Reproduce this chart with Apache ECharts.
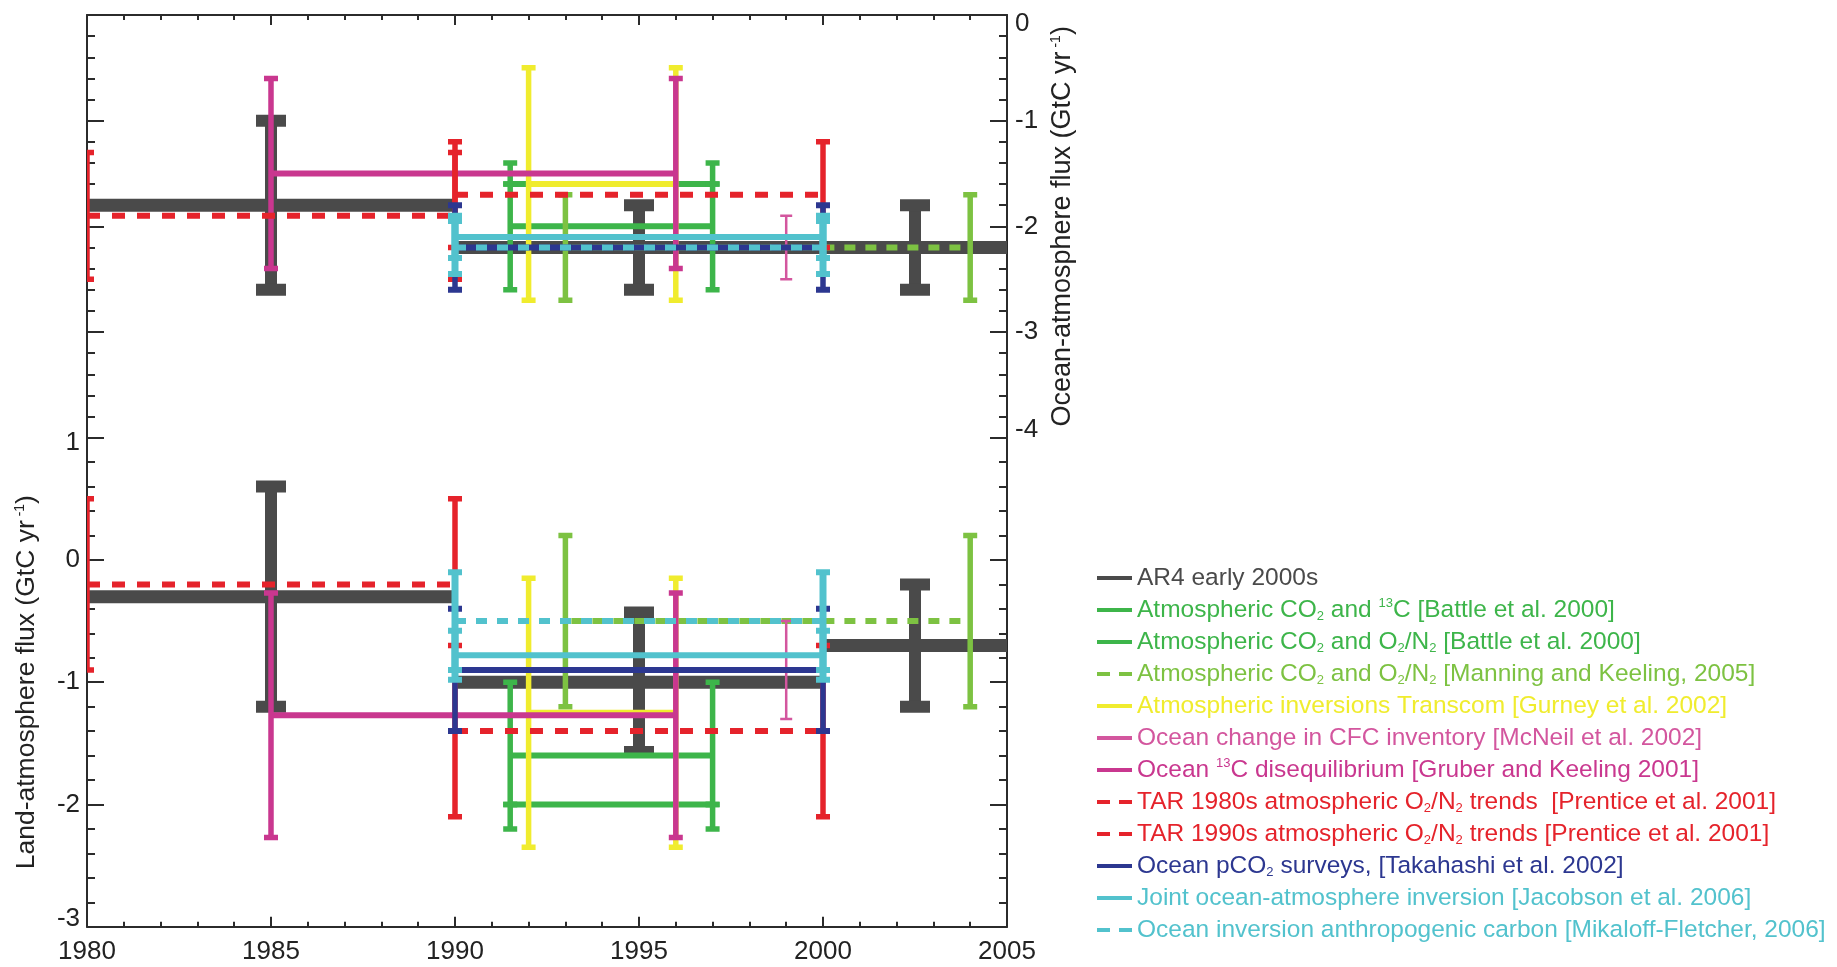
<!DOCTYPE html>
<html>
<head>
<meta charset="utf-8">
<title>Ocean-atmosphere and land-atmosphere fluxes</title>
<script src="https://cdn.jsdelivr.net/npm/echarts@6/dist/echarts.min.js"></script>
<style>
  html, body { margin: 0; padding: 0; background: #fff; }
  #chart { width: 1837px; height: 967px; }
</style>
</head>
<body>
<div id="chart"></div>
<script>
// lines: [start year, end year, flux]   bars: [year, upper, lower]   (GtC per year)
// top panel = ocean-atmosphere flux, bottom panel = land-atmosphere flux
const ar4OceanLines = [[1980, 1990, -1.8], [1990, 2000, -2.2], [2000, 2005, -2.2]];
const ar4OceanBars = [[1985, -1.0, -2.6], [1995, -1.8, -2.6], [2002.5, -1.8, -2.6]];
const ar4LandLines = [[1980, 1990, -0.3], [1990, 2000, -1.0], [2000, 2005, -0.7]];
const ar4LandBars = [[1985, 0.6, -1.2], [1995, -0.43, -1.57], [2002.5, -0.2, -1.2]];

const battle13cOceanLines = [[1991.5, 1997, -1.6]];
const battle13cOceanBars = [[1991.5, -1.6, -1.6], [1997, -1.6, -1.6]];
const battle13cLandLines = [[1991.5, 1997, -2.0]];
const battle13cLandBars = [[1991.5, -2.0, -2.0], [1997, -2.0, -2.0]];

const battleO2OceanLines = [[1991.5, 1997, -2.0]];
const battleO2OceanBars = [[1991.5, -1.4, -2.6], [1997, -1.4, -2.6]];
const battleO2LandLines = [[1991.5, 1997, -1.6]];
const battleO2LandBars = [[1991.5, -1.0, -2.2], [1997, -1.0, -2.2]];

const manningOceanLines = [[1993, 2004, -2.2]];
const manningOceanBars = [[1993, -1.7, -2.7], [2004, -1.7, -2.7]];
const manningLandLines = [[1993, 2004, -0.5]];
const manningLandBars = [[1993, 0.2, -1.2], [2004, 0.2, -1.2]];

const gurneyOceanLines = [[1992, 1996, -1.6]];
const gurneyOceanBars = [[1992, -0.5, -2.7], [1996, -0.5, -2.7]];
const gurneyLandLines = [[1992, 1996, -1.25]];
const gurneyLandBars = [[1992, -0.15, -2.35], [1996, -0.15, -2.35]];

const mcneilOceanLines = [[1990, 1999, -2.2]];
const mcneilOceanBars = [[1999, -1.9, -2.5]];
const mcneilLandLines = [[1990, 1999, -0.9]];
const mcneilLandBars = [[1999, -0.5, -1.3]];

const gruberOceanLines = [[1985, 1996, -1.5]];
const gruberOceanBars = [[1985, -0.6, -2.4], [1996, -0.6, -2.4]];
const gruberLandLines = [[1985, 1996, -1.27]];
const gruberLandBars = [[1985, -0.27, -2.27], [1996, -0.27, -2.27]];

const tar80OceanLines = [[1980, 1990, -1.9]];
const tar80OceanBars = [[1980, -1.3, -2.5], [1990, -1.3, -2.5]];
const tar80LandLines = [[1980, 1990, -0.2]];
const tar80LandBars = [[1980, 0.5, -0.9], [1990, 0.5, -0.9]];

const tar90OceanLines = [[1990, 2000, -1.7]];
const tar90OceanBars = [[1990, -1.2, -2.2], [2000, -1.2, -2.2]];
const tar90LandLines = [[1990, 2000, -1.4]];
const tar90LandBars = [[1990, -0.7, -2.1], [2000, -0.7, -2.1]];

const takahashiOceanLines = [[1990, 2000, -2.2]];
const takahashiOceanBars = [[1990, -1.8, -2.6], [2000, -1.8, -2.6]];
const takahashiLandLines = [[1990, 2000, -0.9]];
const takahashiLandBars = [[1990, -0.4, -1.4], [2000, -0.4, -1.4]];

const jacobsonOceanLines = [[1990, 2000, -2.1]];
const jacobsonOceanBars = [[1990, -1.9, -2.3], [2000, -1.9, -2.3]];
const jacobsonLandLines = [[1990, 2000, -0.78]];
const jacobsonLandBars = [[1990, -0.58, -0.98], [2000, -0.58, -0.98]];

const mikaloffOceanLines = [[1990, 2000, -2.2]];
const mikaloffOceanBars = [[1990, -1.95, -2.45], [2000, -1.95, -2.45]];
const mikaloffLandLines = [[1990, 2000, -0.5]];
const mikaloffLandBars = [[1990, -0.1, -0.9], [2000, -0.1, -0.9]];

const legendNames = [
  'AR4 early 2000s',
  'Atmospheric CO2 and 13C [Battle et al. 2000]',
  'Atmospheric CO2 and O2/N2 [Battle et al. 2000]',
  'Atmospheric CO2 and O2/N2 [Manning and Keeling, 2005]',
  'Atmospheric inversions Transcom [Gurney et al. 2002]',
  'Ocean change in CFC inventory [McNeil et al. 2002]',
  'Ocean 13C disequilibrium [Gruber and Keeling 2001]',
  'TAR 1980s atmospheric O2/N2 trends  [Prentice et al. 2001]',
  'TAR 1990s atmospheric O2/N2 trends [Prentice et al. 2001]',
  'Ocean pCO2 surveys, [Takahashi et al. 2002]',
  'Joint ocean-atmosphere inversion [Jacobson et al. 2006]',
  'Ocean inversion anthropogenic carbon [Mikaloff-Fletcher, 2006]'
];

// drawing styles
const FONT = '"Liberation Sans", Arial, Helvetica, sans-serif';
const thick = { color: '#4a4a4a', lineW: 13, barW: 12, capW: 30, capH: 12 };
const green = { color: '#3db54a', lineW: 6, barW: 5.5, capW: 14, capH: 5.5 };
const lightGreen = { color: '#7dc242', lineW: 6, barW: 5.5, capW: 14, capH: 5.5, dash: [11, 10], dashOffset: 15 };
const yellow = { color: '#f0ec2e', lineW: 6, barW: 5.5, capW: 14, capH: 5.5 };
const pink = { color: '#d3569e', lineW: 2.5, barW: 2.5, capW: 12, capH: 2.5 };
const magenta = { color: '#c9378f', lineW: 6, barW: 5.5, capW: 14, capH: 5.5 };
const red = { color: '#e5232b', lineW: 6, barW: 5.5, capW: 14, capH: 5.5, dash: [13, 12] };
const navy = { color: '#2c3790', lineW: 6, barW: 5.5, capW: 14, capH: 6 };
const cyan = { color: '#52c2cd', lineW: 6, barW: 7, capW: 14, capH: 6 };
const cyanDash = { color: '#52c2cd', lineW: 6, barW: 7, capW: 14, capH: 6, dash: [11, 10] };

const datasets = [
  { style: thick, ocean: [ar4OceanLines, ar4OceanBars], land: [ar4LandLines, ar4LandBars] },
  { style: green, ocean: [battle13cOceanLines, battle13cOceanBars], land: [battle13cLandLines, battle13cLandBars] },
  { style: green, ocean: [battleO2OceanLines, battleO2OceanBars], land: [battleO2LandLines, battleO2LandBars] },
  { style: lightGreen, ocean: [manningOceanLines, manningOceanBars], land: [manningLandLines, manningLandBars] },
  { style: yellow, ocean: [gurneyOceanLines, gurneyOceanBars], land: [gurneyLandLines, gurneyLandBars] },
  { style: pink, ocean: [mcneilOceanLines, mcneilOceanBars], land: [mcneilLandLines, mcneilLandBars] },
  { style: magenta, ocean: [gruberOceanLines, gruberOceanBars], land: [gruberLandLines, gruberLandBars] },
  { style: red, ocean: [tar80OceanLines, tar80OceanBars], land: [tar80LandLines, tar80LandBars] },
  { style: red, ocean: [tar90OceanLines, tar90OceanBars], land: [tar90LandLines, tar90LandBars] },
  { style: navy, ocean: [takahashiOceanLines, takahashiOceanBars], land: [takahashiLandLines, takahashiLandBars] },
  { style: cyan, ocean: [jacobsonOceanLines, jacobsonOceanBars], land: [jacobsonLandLines, jacobsonLandBars] },
  { style: cyanDash, ocean: [mikaloffOceanLines, mikaloffOceanBars], land: [mikaloffLandLines, mikaloffLandBars] }
];

function toRows(pair) {
  // kind 0 = period line, kind 1 = error bar
  return pair[0].map(l => [0, l[0], l[1], l[2]]).concat(pair[1].map(b => [1, b[0], b[1], b[2]]));
}

function renderer(st) {
  return function (params, api) {
    if (api.value(0) === 0) {
      const a = api.coord([api.value(1), api.value(3)]);
      const b = api.coord([api.value(2), api.value(3)]);
      return {
        type: 'line',
        shape: { x1: a[0], y1: a[1], x2: b[0], y2: b[1] },
        style: {
          stroke: st.color, lineWidth: st.lineW, lineCap: 'butt',
          lineDash: st.dash, lineDashOffset: st.dashOffset || 0
        }
      };
    }
    const t = api.coord([api.value(1), api.value(2)]);
    const b = api.coord([api.value(1), api.value(3)]);
    const fill = { fill: st.color };
    return {
      type: 'group',
      children: [
        { type: 'rect', shape: { x: t[0] - st.barW / 2, y: t[1], width: st.barW, height: b[1] - t[1] }, style: fill },
        { type: 'rect', shape: { x: t[0] - st.capW / 2, y: t[1] - st.capH / 2, width: st.capW, height: st.capH }, style: fill },
        { type: 'rect', shape: { x: b[0] - st.capW / 2, y: b[1] - st.capH / 2, width: st.capW, height: st.capH }, style: fill }
      ]
    };
  };
}

const series = [];
datasets.forEach((ds, i) => {
  [['ocean', 0, 0], ['land', 1, 2]].forEach(([key, xi, yi]) => {
    series.push({
      type: 'custom',
      name: legendNames[i],
      xAxisIndex: xi,
      yAxisIndex: yi,
      clip: true,
      silent: true,
      itemStyle: { color: ds.style.color },
      renderItem: renderer(ds.style),
      data: toRows(ds[key])
    });
  });
});

function toRich(name) {
  return name.replace(/CO2/g, 'CO{sub|2}')
    .replace(/O2\/N2/g, 'O{sub|2}/N{sub|2}')
    .replace(/13C/g, '{sup|13}C');
}

const solidIcon = 'path://M0,0h35v4h-35z';
const dashIcon = 'path://M0,0h13v4h-13zM22,0h13v4h-13z';

const axisColor = '#2b2b2b';
const labelStyle = { fontFamily: FONT, fontSize: 26, color: '#222' };
const edgeRich = {
  dn: { fontFamily: FONT, fontSize: 26, color: '#222', padding: [18, 0, 0, 0] },
  dn2: { fontFamily: FONT, fontSize: 26, color: '#222', padding: [10, 0, 0, 0] },
  up: { fontFamily: FONT, fontSize: 26, color: '#222', padding: [0, 0, 16, 0] }
};
const nameRich = {
  sup: { fontFamily: FONT, fontSize: 14, lineHeight: 14, verticalAlign: 'top', color: '#222' }
};

function yTicks(pos) {
  return {
    axisLine: { show: true, onZero: false, lineStyle: { color: axisColor, width: 2 } },
    axisTick: { show: true, inside: true, length: 17, lineStyle: { color: axisColor, width: 2 } },
    minorTick: { show: true, splitNumber: 5, length: 8, lineStyle: { color: axisColor, width: 2 } },
    splitLine: { show: false },
    minorSplitLine: { show: false },
    position: pos
  };
}

const option = {
  backgroundColor: '#fff',
  animation: false,
  grid: [
    { left: 87, top: 15, width: 920, height: 422.7 },
    { left: 87, top: 437.7, width: 920, height: 489 }
  ],
  xAxis: [0, 1].map(g => ({
    type: 'value',
    gridIndex: g,
    min: 1980,
    max: 2005,
    interval: 5,
    position: g === 0 ? 'top' : 'bottom',
    axisLine: { show: true, onZero: false, lineStyle: { color: axisColor, width: 2 } },
    axisTick: { show: true, inside: true, length: 10, lineStyle: { color: axisColor, width: 2 } },
    minorTick: { show: true, splitNumber: 5, length: 5, lineStyle: { color: axisColor, width: 2 } },
    splitLine: { show: false },
    minorSplitLine: { show: false },
    axisLabel: g === 0 ? { show: false } : Object.assign({ margin: 12, formatter: v => String(v) }, labelStyle)
  })),
  yAxis: [
    Object.assign(yTicks('right'), {
      type: 'value', gridIndex: 0, min: -4, max: 0, interval: 1,
      name: 'Ocean-atmosphere flux (GtC yr{sup| -1})',
      nameLocation: 'middle', nameGap: 26, nameRotate: 90,
      nameTextStyle: { fontFamily: FONT, fontSize: 27, color: '#222', lineHeight: 28, rich: nameRich },
      axisLabel: Object.assign({
        margin: 8,
        rich: edgeRich,
        formatter: v => v === 0 ? '{dn|0}' : v === -4 ? '{up|-4}' : String(v)
      }, labelStyle)
    }),
    Object.assign(yTicks('left'), {
      type: 'value', gridIndex: 0, min: -4, max: 0, interval: 1,
      axisLabel: { show: false }
    }),
    Object.assign(yTicks('left'), {
      type: 'value', gridIndex: 1, min: -3, max: 1, interval: 1,
      name: 'Land-atmosphere flux (GtC yr{sup| -1})',
      nameLocation: 'middle', nameGap: 46, nameRotate: 90,
      nameTextStyle: { fontFamily: FONT, fontSize: 26.5, color: '#222', lineHeight: 28, rich: nameRich },
      axisLabel: Object.assign({
        margin: 7,
        rich: edgeRich,
        formatter: v => v === -3 ? '{up|-3}' : v === 1 ? '{dn2|1}' : String(v)
      }, labelStyle)
    }),
    Object.assign(yTicks('right'), {
      type: 'value', gridIndex: 1, min: -3, max: 1, interval: 1,
      axisLabel: { show: false }
    })
  ],
  legend: {
    orient: 'vertical',
    left: 1092,
    top: 560,
    itemWidth: 35,
    itemHeight: 26,
    itemGap: 6,
    selectedMode: false,
    formatter: name => toRich(name),
    textStyle: {
      fontFamily: FONT,
      fontSize: 24.5,
      lineHeight: 26,
      rich: {
        sub: { fontFamily: FONT, fontSize: 13, lineHeight: 13, verticalAlign: 'bottom' },
        sup: { fontFamily: FONT, fontSize: 13, lineHeight: 13, verticalAlign: 'top' }
      }
    },
    data: legendNames.map((n, i) => ({
      name: n,
      icon: datasets[i].style.dash ? dashIcon : solidIcon,
      itemStyle: { color: datasets[i].style.color },
      textStyle: { color: datasets[i].style.color }
    }))
  },
  series: series
};

const chart = echarts.init(document.getElementById('chart'));
chart.setOption(option);
</script>
</body>
</html>
